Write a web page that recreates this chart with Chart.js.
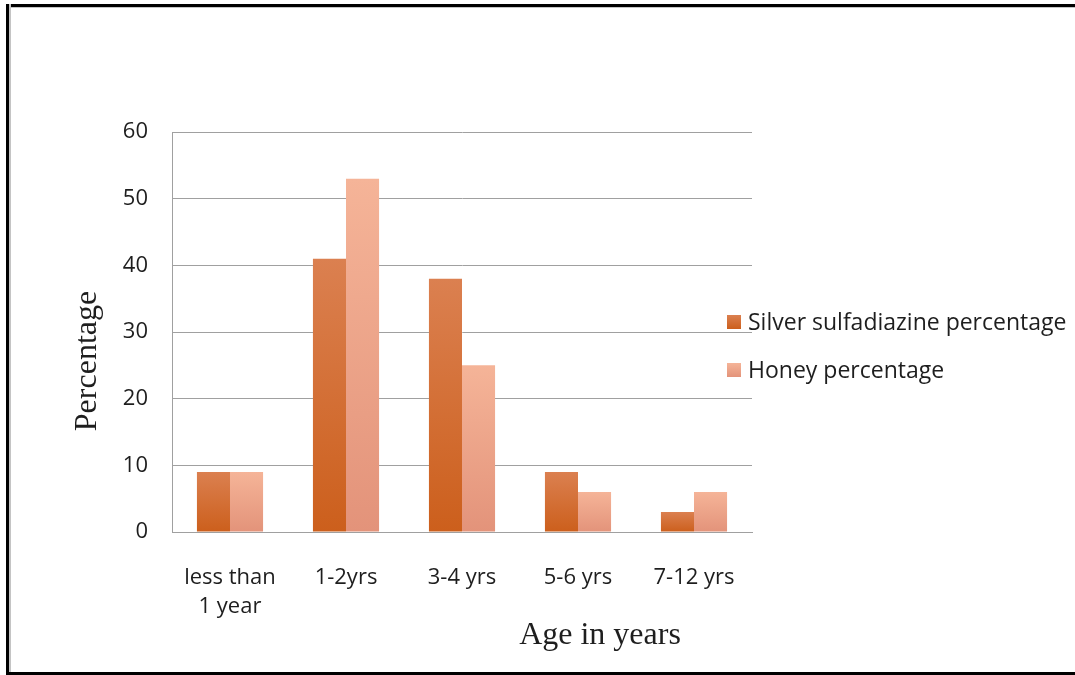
<!DOCTYPE html>
<html>
<head>
<meta charset="utf-8">
<script src="https://cdn.jsdelivr.net/npm/chart.js@4.4.0/dist/chart.umd.min.js"></script>
<style>
  html, body { margin: 0; padding: 0; background: #fff; overflow: hidden; }
  #wrap { position: relative; width: 1075px; height: 675px; overflow: hidden; }
  /* open frame: left, top and bottom edges only */
  .edge { position: absolute; background: #000; pointer-events: none; }
  #edgeTop { left: 6px; top: 4px; width: 1200px; height: 3px; box-shadow: 0 1px 0 #c4c4c4; }
  #edgeLeft { left: 6px; top: 4px; width: 3px; height: 671px; box-shadow: 2px 0 0 #c4c4c4; }
  #edgeBottom { left: 6px; top: 672px; width: 1200px; height: 3px; }
  #legend { position: absolute; left: 727px; top: 305px; font-family: "Open Sans", sans-serif; font-size: 23px; color: #1e1e1e; white-space: nowrap; }
  #legend div { height: 48px; display: flex; align-items: flex-start; }
  #legend span.box { display: inline-block; width: 14px; height: 14px; margin: 10px 7px 0 0; }
</style>
</head>
<body>
<div id="wrap">
  <canvas id="ageChart" width="1075" height="675"></canvas>
  <div class="edge" id="edgeTop"></div>
  <div class="edge" id="edgeLeft"></div>
  <div class="edge" id="edgeBottom"></div>
  <div id="legend"></div>
</div>
<script>
// Age groups of the burn patients
const ageGroups = [['less than', '1 year'], '1-2yrs', '3-4 yrs', '5-6 yrs', '7-12 yrs'];
const silverPct = [9, 41, 38, 9, 3];
const honeyPct = [9, 53, 25, 6, 6];
const yTicks = [0, 10, 20, 30, 40, 50, 60];

const seriesNames = ['Silver sulfadiazine percentage', 'Honey percentage'];
// top / bottom shade of each series
const silverShades = ['#db8050', '#cc5f1c'];
const honeyShades = ['#f5b498', '#e3937a'];

// vertical gradient per bar, lighter at the top
function barFill(shades) {
  return function (c) {
    const chart = c.chart;
    if (!chart.chartArea || c.type !== 'data' || !chart.scales.y) return shades[1];
    const y = chart.scales.y;
    const top = y.getPixelForValue(c.parsed.y);
    const base = y.getPixelForValue(0);
    if (!isFinite(top) || base - top < 1) return shades[1];
    const g = chart.ctx.createLinearGradient(0, top, 0, base);
    g.addColorStop(0, shades[0]);
    g.addColorStop(1, shades[1]);
    return g;
  };
}

// axis titles sit off-centre, so they are drawn by hand
const axisTitles = {
  id: 'axisTitles',
  afterDraw(chart) {
    const ctx = chart.ctx;
    const a = chart.chartArea;
    ctx.save();
    ctx.fillStyle = '#1e1e1e';
    ctx.textAlign = 'center';
    ctx.textBaseline = 'middle';
    ctx.font = '32px "Liberation Serif", serif';
    ctx.fillText('Age in years', a.left + 428, a.bottom + 104);
    ctx.translate(a.left - 84, a.top + 229);
    ctx.rotate(-Math.PI / 2);
    ctx.fillText('Percentage', 0, 0);
    ctx.restore();
  }
};

const chart = new Chart(document.getElementById('ageChart').getContext('2d'), {
  type: 'bar',
  data: {
    labels: ageGroups,
    datasets: [
      { label: seriesNames[0], data: silverPct, backgroundColor: barFill(silverShades), _shades: silverShades },
      { label: seriesNames[1], data: honeyPct, backgroundColor: barFill(honeyShades), _shades: honeyShades }
    ]
  },
  options: {
    responsive: false,
    animation: false,
    layout: { padding: { left: 0, top: 132, right: 323, bottom: 0 } },
    datasets: { bar: { barPercentage: 1, categoryPercentage: 0.57 } },
    plugins: { legend: { display: false }, tooltip: { enabled: false } },
    scales: {
      x: {
        grid: { display: false },
        border: { display: true, color: '#a0a0a0' },
        ticks: { color: '#1e1e1e', padding: 23, maxRotation: 0, font: { family: 'Open Sans', size: 22, lineHeight: 1.32 } },
        afterFit(s) { s.height = 143; }
      },
      y: {
        min: 0, max: 60,
        afterBuildTicks(s) { s.ticks = yTicks.map(v => ({ value: v })); },
        grid: { color: '#a0a0a0', drawTicks: false },
        border: { display: true, color: '#a0a0a0' },
        ticks: { color: '#1e1e1e', padding: 24, font: { family: 'Open Sans', size: 22 } },
        afterFit(s) { s.width = 172; }
      }
    }
  },
  plugins: [axisTitles]
});

// legend built from the datasets
const legend = document.getElementById('legend');
chart.data.datasets.forEach(ds => {
  const row = document.createElement('div');
  const box = document.createElement('span');
  box.className = 'box';
  box.style.background = 'linear-gradient(' + ds._shades[0] + ',' + ds._shades[1] + ')';
  row.appendChild(box);
  row.appendChild(document.createTextNode(ds.label));
  legend.appendChild(row);
});
</script>
</body>
</html>
